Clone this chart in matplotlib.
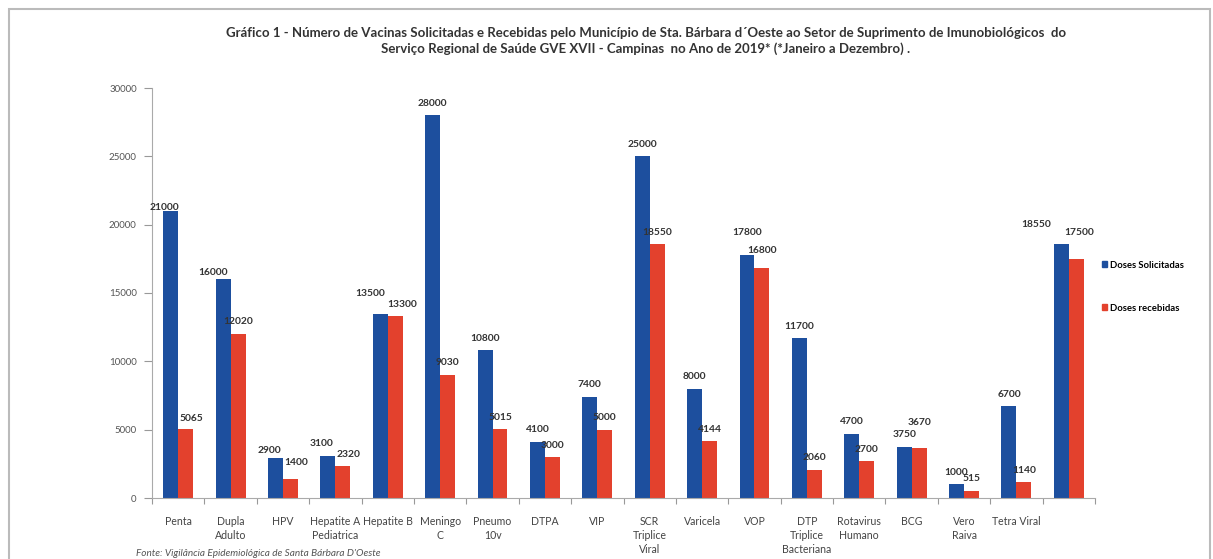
import numpy as np
import matplotlib
matplotlib.use('Agg')
import matplotlib.pyplot as plt
from matplotlib.patches import Rectangle, Patch
from matplotlib.transforms import offset_copy


categories = ['Penta', 'Dupla\nAdulto', 'HPV', 'Hepatite A\nPediatrica', 'Hepatite B',
              'Meningo\nC', 'Pneumo\n10v', 'DTPA', 'VIP', 'SCR\nTriplice\nViral',
              'Varicela', 'VOP', 'DTP\nTriplice\nBacteriana', 'Rotavirus\nHumano',
              'BCG', 'Vero\nRaiva', 'Tetra Viral', '']
solicitadas = [21000, 16000, 2900, 3100, 13500, 28000, 10800, 4100, 7400, 25000,
               8000, 17800, 11700, 4700, 3750, 1000, 6700, 18550]
recebidas = [5065, 12020, 1400, 2320, 13300, 9030, 5015, 3000, 5000, 18550,
             4144, 16800, 2060, 2700, 3670, 515, 1140, 17500]
yticks = [0, 5000, 10000, 15000, 20000, 25000, 30000]

title = ('Gráfico 1 - Número de Vacinas Solicitadas e Recebidas pelo Município de Sta. '
         'Bárbara d´Oeste ao Setor de Suprimento de Imunobiológicos  do\n'
         'Serviço Regional de Saúde GVE XVII - Campinas  no Ano de 2019* (*Janeiro a Dezembro) .')
fonte = "Fonte: Vigilância Epidemiológica de Santa Bárbara D'Oeste"

blue = '#1d4f9e'
red = '#e3412d'

# label nudges in pixels (dx, dy) to mimic where the original put a few labels
nudge_blue = {0: (-6, -8), 1: (-10, -5), 2: (-6, -4), 3: (-6, 0), 4: (-10, 8),
              11: (0, 10), 17: (-25, 8)}
nudge_red = {0: (6, -2), 2: (6, 4), 3: (6, 0), 4: (7, 0), 14: (0, 13),
             11: (0, 6), 17: (3, 14)}

plt.rcParams['font.family'] = ['Lato', 'DejaVu Sans']

fig = plt.figure(figsize=(12.13, 5.59), dpi=100)
W, H = 1213, 559
ax = fig.add_axes([152 / W, 1 - 498 / H, (1095 - 152) / W, 410 / H])

x = np.arange(len(categories))
bw = 0.285
ax.bar(x - bw / 2, solicitadas, bw, color=blue, zorder=2)
ax.bar(x + bw / 2, recebidas, bw, color=red, zorder=2)

ax.set_xlim(-0.5, len(categories) - 0.5)
ax.set_ylim(0, 30000)
ax.set_yticks(yticks)
ax.set_yticklabels([str(v) for v in yticks], fontsize=7, color='#555555')
ax.tick_params(axis='y', length=6, color='#999999', pad=5)

# category boundaries get the tick marks, labels sit at the centres
ax.set_xticks(np.arange(len(categories) + 1) - 0.5)
ax.set_xticklabels([])
ax.tick_params(axis='x', which='major', length=4, color='#999999')
ax.set_xticks(x, minor=True)
ax.set_xticklabels(categories, minor=True, fontsize=7.6, color='#444444',
                   linespacing=1.35, va='top')
ax.tick_params(axis='x', which='minor', length=0, pad=13)

for s in ['top', 'right']:
    ax.spines[s].set_visible(False)
for s in ['left', 'bottom']:
    ax.spines[s].set_color('#aaaaaa')
    ax.spines[s].set_linewidth(0.8)

for i, v in enumerate(solicitadas):
    dx, dy = nudge_blue.get(i, (0, 0))
    tr = offset_copy(ax.transData, fig=fig, x=dx * 0.72, y=(12 + dy) * 0.72, units='points')
    ax.text(x[i] - bw / 2, v, str(v), transform=tr, ha='center', va='center',
            fontsize=7.4, fontweight='bold', color='#333333', zorder=3)
for i, v in enumerate(recebidas):
    dx, dy = nudge_red.get(i, (0, 0))
    tr = offset_copy(ax.transData, fig=fig, x=dx * 0.72, y=(12 + dy) * 0.72, units='points')
    ax.text(x[i] + bw / 2, v, str(v), transform=tr, ha='center', va='center',
            fontsize=7.4, fontweight='bold', color='#333333', zorder=3)

handles = [Patch(color=blue, label='Doses Solicitadas'),
           Patch(color=red, label='Doses recebidas')]
fig.legend(handles=handles, loc='upper left', bbox_to_anchor=(1093 / W, 1 - 252 / H),
           frameon=False, handlelength=0.6, handleheight=0.6,
           handletextpad=0.3, labelspacing=3.6, prop={'weight': 'bold', 'size': 6.8})

fig.text(646 / W, 1 - 41 / H, title, ha='center', va='center', fontsize=9.5,
         fontweight='bold', color='#333333', linespacing=1.4)
fig.text(136 / W, 1 - 553 / H, fonte, ha='left', va='center', fontsize=7.2,
         style='italic', color='#555555')

fig.patches.append(Rectangle((9 / W, -0.05), (1210 - 9) / W, 1.05 - 9 / H,
                             transform=fig.transFigure, fill=False,
                             edgecolor='#bbbbbb', linewidth=1.5))

fig.savefig('out.png', dpi=100)
